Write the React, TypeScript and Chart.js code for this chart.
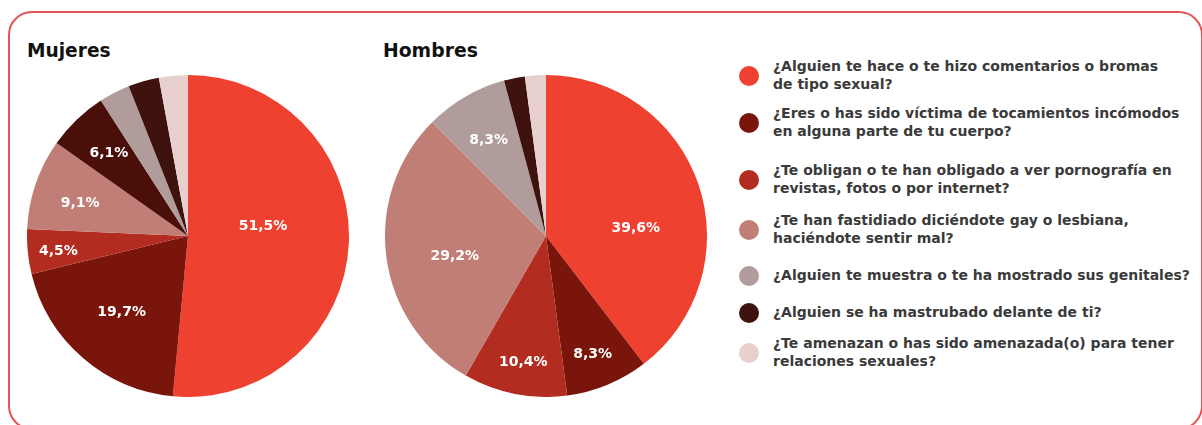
import React, { useEffect, useRef } from "react";
import { Chart, registerables } from "chart.js";

Chart.register(...registerables);

const categories = [
  "¿Alguien te hace o te hizo comentarios o bromas de tipo sexual?",
  "¿Eres o has sido víctima de tocamientos incómodos en alguna parte de tu cuerpo?",
  "¿Te obligan o te han obligado a ver pornografía en revistas, fotos o por internet?",
  "¿Te han fastidiado diciéndote gay o lesbiana, haciéndote sentir mal?",
  "¿Alguien te muestra o te ha mostrado sus genitales?",
  "¿Alguien se ha mastrubado delante de ti?",
  "¿Te amenazan o has sido amenazada(o) para tener relaciones sexuales?",
];
const legendLines = [
  ["¿Alguien te hace o te hizo comentarios o bromas", "de tipo sexual?"],
  ["¿Eres o has sido víctima de tocamientos incómodos", "en alguna parte de tu cuerpo?"],
  ["¿Te obligan o te han obligado a ver pornografía en", "revistas, fotos o por internet?"],
  ["¿Te han fastidiado diciéndote gay o lesbiana,", "haciéndote sentir mal?"],
  ["¿Alguien te muestra o te ha mostrado sus genitales?"],
  ["¿Alguien se ha mastrubado delante de ti?"],
  ["¿Te amenazan o has sido amenazada(o) para tener", "relaciones sexuales?"],
];
const categoryColors = ["#ef4130", "#7a150b", "#b22d20", "#c07e76", "#b09c9a", "#3e120e", "#e8d0cf"];

const womenLabels = [categories[0], categories[1], categories[2], categories[3], "Otro", categories[4], categories[5], categories[6]];
const womenValues = [51.5, 19.7, 4.5, 9.1, 6.1, 3.1, 3.1, 2.9];
const womenColors = ["#ef4130", "#7a150b", "#b22d20", "#c07e76", "#4b0f09", "#b09c9a", "#3e120e", "#e8d0cf"];

const menLabels = categories;
const menValues = [39.6, 8.3, 10.4, 29.2, 8.3, 2.1, 2.1];
const menColors = categoryColors;

// label placement (fraction of radius, angle shift in degrees)
const womenLabelPos = [[0.47, -10], [0.63, 0], [0.81, -1], [0.7, -2], [0.71, 0], null, null, null];
const menLabelPos = [[0.56, 14], [0.79, 1], [0.8, -1], [0.58, -5], [0.69, -1], null, null];

const fmt = (v: number) => v.toFixed(1).replace(".", ",") + "%";

function makeLabelPlugin(pos: any[]) {
  return {
    id: "sliceLabels",
    afterDatasetsDraw(chart: any) {
      const ctx = chart.ctx;
      const meta = chart.getDatasetMeta(0);
      const data = chart.data.datasets[0].data;
      ctx.save();
      ctx.fillStyle = "#ffffff";
      ctx.font = "bold 14px 'DejaVu Sans', sans-serif";
      ctx.textAlign = "center";
      ctx.textBaseline = "middle";
      meta.data.forEach((arc: any, i: number) => {
        const p = pos[i];
        if (!p) return;
        const { x, y, startAngle, endAngle, outerRadius } = arc.getProps(
          ["x", "y", "startAngle", "endAngle", "outerRadius"],
          true
        );
        const a = (startAngle + endAngle) / 2 + (p[1] * Math.PI) / 180;
        const r = outerRadius * p[0];
        ctx.fillText(fmt(data[i]), x + Math.cos(a) * r, y + Math.sin(a) * r);
      });
      ctx.restore();
    },
  };
}

function Pie({ labels, values, colors, pos, style }: any) {
  const ref = useRef<HTMLCanvasElement>(null);
  useEffect(() => {
    const chart = new Chart(ref.current!, {
      type: "pie",
      data: {
        labels,
        datasets: [{ data: values, backgroundColor: colors, borderWidth: 0 }],
      },
      options: {
        animation: false,
        responsive: false,
        maintainAspectRatio: false,
        layout: { padding: 0 },
        plugins: { legend: { display: false }, tooltip: { enabled: false } },
      },
      plugins: [makeLabelPlugin(pos)],
    });
    return () => chart.destroy();
  }, []);
  return <canvas ref={ref} width={322} height={322} style={{ position: "absolute", ...style }} />;
}

export default function App() {
  const font = "'DejaVu Sans', sans-serif";
  return (
    <div style={{ position: "absolute", left: 0, top: 0, width: 1202, height: 425, overflow: "hidden", background: "#fff", fontFamily: font }}>
      <div
        style={{
          position: "absolute",
          left: 8,
          top: 11,
          width: 1195,
          height: 419,
          border: "2px solid #e35454",
          borderRadius: 24,
          boxSizing: "border-box",
        }}
      />
      <div style={{ position: "absolute", left: 27, top: 40, fontSize: 18.6, fontWeight: 700, color: "#111" }}>Mujeres</div>
      <div style={{ position: "absolute", left: 383, top: 40, fontSize: 18.8, fontWeight: 700, color: "#111" }}>Hombres</div>
      <Pie labels={womenLabels} values={womenValues} colors={womenColors} pos={womenLabelPos} style={{ left: 27, top: 75 }} />
      <Pie labels={menLabels} values={menValues} colors={menColors} pos={menLabelPos} style={{ left: 385, top: 75 }} />
      {legendLines.map((lines, i) => {
        const cy = [76, 123, 180, 230, 276, 313, 353][i];
        return (
          <div key={i}>
            <div
              style={{
                position: "absolute",
                left: 739,
                top: cy - 10,
                width: 20,
                height: 20,
                borderRadius: 10,
                background: categoryColors[i],
              }}
            />
            <div
              style={{
                position: "absolute",
                left: 773,
                top: cy - (lines.length * 18) / 2 - 1,
                fontSize: 14,
                lineHeight: "18px",
                fontWeight: 700,
                color: "#3a3a3a",
                whiteSpace: "nowrap",
              }}
            >
              {lines.map((l, j) => (
                <div key={j}>{l}</div>
              ))}
            </div>
          </div>
        );
      })}
    </div>
  );
}
